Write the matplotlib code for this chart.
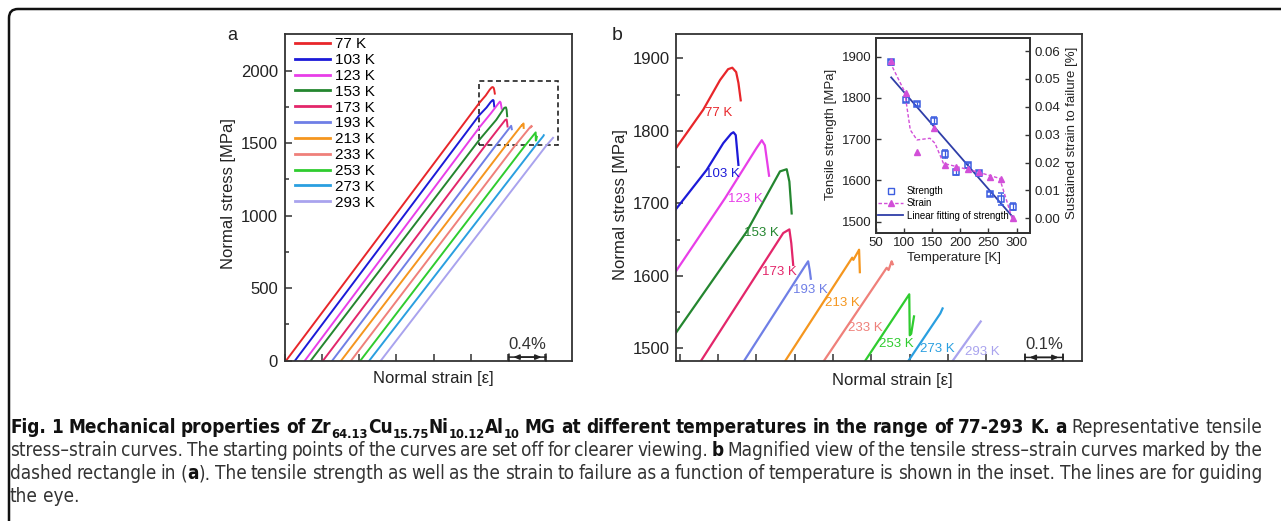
import matplotlib
matplotlib.use('Agg')
import matplotlib.pyplot as plt
import numpy as np
from matplotlib import font_manager
from matplotlib.patches import Rectangle, FancyBboxPatch
from matplotlib.transforms import IdentityTransform, blended_transform_factory
from matplotlib.lines import Line2D

plt.rcParams['font.family'] = ['Liberation Sans', 'DejaVu Sans']

# ---- data ----
temps = [77, 103, 123, 153, 173, 193, 213, 233, 253, 273, 293]
curve_labels = ['%d K' % t for t in temps]
colors = ['#e8262a', '#1c1ad8', '#e83ee8', '#24862f', '#e3266a', '#6f7fe6',
          '#f5961e', '#ef807a', '#2fcc2f', '#2a9fe0', '#a9a3ee']

# strain [%] where each (offset) curve leaves zero stress
start_strain = [0.011, 0.107, 0.213, 0.277, 0.409, 0.508, 0.604, 0.711, 0.811, 0.907, 1.031]
# upper part of each curve (strain %, stress MPa)
top_strain = [
    [2.090, 2.161, 2.205, 2.226, 2.237, 2.247, 2.253, 2.259],
    [2.090, 2.170, 2.2135, 2.234, 2.240, 2.246, 2.253],
    [2.092, 2.218, 2.300, 2.314, 2.322, 2.333],
    [2.092, 2.2746, 2.3615, 2.379, 2.386, 2.392],
    [2.155, 2.370, 2.386, 2.391, 2.396],
    [2.2675, 2.425, 2.435, 2.439, 2.442],
    [2.375, 2.550, 2.553, 2.566, 2.568, 2.570],
    [2.4746, 2.640, 2.645, 2.653, 2.656],
    [2.5835, 2.699, 2.7003, 2.704, 2.7114],
    [2.6965, 2.780, 2.786],
    [2.812, 2.8856],
]
top_stress = [
    [1776, 1829, 1870, 1885, 1887, 1881, 1866, 1842],
    [1692, 1746, 1783, 1796, 1798, 1794, 1753],
    [1608, 1707, 1776, 1787, 1780, 1738],
    [1523, 1661, 1744, 1747, 1730, 1686],
    [1482.5, 1659, 1664, 1645, 1615],
    [1482.5, 1612, 1620, 1608, 1596],
    [1482.5, 1625, 1622, 1634, 1636, 1605],
    [1481.5, 1611, 1608, 1620, 1616],
    [1482.5, 1574.5, 1518, 1520, 1544],
    [1482.5, 1548, 1555],
    [1482.5, 1537],
]
# label anchors in panel b (left edge, centre)
label_pos = [(2.166, 1824), (2.166, 1741), (2.227, 1706), (2.268, 1659), (2.314, 1605),
             (2.395, 1580), (2.479, 1563), (2.538, 1528), (2.620, 1506), (2.727, 1499),
             (2.845, 1495)]

zoom_box = (2.09, 2.94, 1487, 1929)

# inset
strength = [1886, 1795, 1785, 1745, 1664, 1619, 1637, 1617, 1566, 1555, 1536]
strength_err = [6, 6, 6, 8, 10, 6, 6, 6, 5, 15, 8]
fail_strain = [0.0563, 0.0448, 0.0239, 0.0323, 0.0191, 0.0183, 0.0176, 0.0167, 0.0149, 0.0141, 0.0]
guide_T = [75, 101, 111, 123, 146, 155, 170, 194, 229, 270, 282, 292]
guide_strain = [0.056, 0.0454, 0.0317, 0.0281, 0.0287, 0.0269, 0.0197, 0.0185, 0.0167, 0.0143, 0.0066, 0.0]

W, H = 1281, 521
fig = plt.figure(figsize=(W / 100, H / 100), dpi=100)


def px_axes(l, t, r, b):
    return fig.add_axes([l / W, 1 - b / H, (r - l) / W, (b - t) / H])


axa = px_axes(285, 34, 572, 360.7)
axb = px_axes(676, 34, 1082, 361)
axi = px_axes(876, 38, 1030, 232.7)

spine_c = '#333333'
for ax in (axa, axb, axi):
    for s in ax.spines.values():
        s.set_linewidth(1.3)
        s.set_color(spine_c)

# ---- panel a ----
for i in range(len(temps)):
    xs = [start_strain[i]] + top_strain[i]
    ys = [0] + top_stress[i]
    axa.plot(xs, ys, color=colors[i], lw=1.4, label=curve_labels[i])
axa.set_xlim(0, 3.09)
axa.set_ylim(0, 2253)
axa.set_yticks([0, 500, 1000, 1500, 2000])
axa.set_yticks(np.arange(250, 2250, 500), minor=True)
axa.set_xticks(np.arange(0, 3.1, 0.4))
axa.set_xticklabels([])
axa.tick_params(direction='in', length=5, width=1.1, labelsize=12, pad=5, colors=spine_c)
axa.tick_params(which='minor', direction='in', length=3, width=1.1, colors=spine_c)
axa.tick_params(labelcolor='#222222')
axa.add_patch(Rectangle((zoom_box[0], zoom_box[2]), zoom_box[1] - zoom_box[0],
                        zoom_box[3] - zoom_box[2], fill=False, ls=(0, (3, 2)),
                        lw=1.2, color='#222222'))
leg = axa.legend(loc='upper left', bbox_to_anchor=(0.035, 0.99), frameon=False,
                 fontsize=11, handlelength=2.3, handletextpad=0.3, labelspacing=0.12,
                 borderpad=0, borderaxespad=0)
for l in leg.get_lines():
    l.set_linewidth(2)


def scale_bar(ax, x0, length, text):
    tr = blended_transform_factory(ax.transData, ax.transAxes)
    ax.annotate('', xy=(x0 + length, 0.011), xytext=(x0, 0.011), xycoords=tr, textcoords=tr,
                arrowprops=dict(arrowstyle='|-|,widthA=0.25,widthB=0.25', lw=1.1, color='#222',
                                shrinkA=0, shrinkB=0))
    ax.annotate('', xy=(x0 + length * 0.88, 0.011), xytext=(x0 + length * 0.12, 0.011),
                xycoords=tr, textcoords=tr,
                arrowprops=dict(arrowstyle='<|-|>,head_length=0.35,head_width=0.15', lw=1.1,
                                color='#222', shrinkA=0, shrinkB=0))
    ax.text(x0 + length / 2, 0.05, text, transform=tr, ha='center', va='center',
            fontsize=12, color='#333')


scale_bar(axa, 2.41, 0.4, '0.4%')

# ---- panel b ----
for i in range(len(temps)):
    xs = [start_strain[i]] + top_strain[i]
    ys = [0] + top_stress[i]
    axb.plot(xs, ys, color=colors[i], lw=1.6)
    axb.text(label_pos[i][0], label_pos[i][1], curve_labels[i], color=colors[i],
             fontsize=9.5, ha='left', va='center')
axb.set_xlim(2.09, 3.15)
axb.set_ylim(1482.5, 1933.5)
axb.set_yticks([1500, 1600, 1700, 1800, 1900])
axb.set_yticks(np.arange(1550, 1950, 100), minor=True)
axb.set_xticks(np.arange(2.1, 3.15, 0.1))
axb.set_xticklabels([])
axb.tick_params(direction='in', length=5, width=1.1, labelsize=12, pad=4.5, colors=spine_c)
axb.tick_params(which='minor', direction='in', length=3, width=1.1, colors=spine_c)
axb.tick_params(labelcolor='#222222')
scale_bar(axb, 3.001, 0.1, '0.1%')

# ---- inset ----
blue_c = '#3d5ee0'
mag_c = '#d24fd8'
fit_c = '#2f3ea8'
p = np.polyfit(temps, strength, 1)
T_fit = np.array([temps[0], temps[-1]])
axi.plot(T_fit, np.polyval(p, T_fit), color=fit_c, lw=1.3, zorder=2)
axi.errorbar(temps, strength, yerr=strength_err, fmt='s', mfc='none', mec=blue_c,
             ecolor=blue_c, ms=5, mew=1.1, capsize=2, elinewidth=0.9, zorder=3)
axi.set_xlim(50, 324)
axi.set_ylim(1473, 1945)
axi.set_xticks([50, 100, 150, 200, 250, 300])
axi.set_yticks([1500, 1600, 1700, 1800, 1900])
axi.tick_params(direction='in', length=3.5, width=1, labelsize=9.5, pad=3, colors=spine_c)
axi.tick_params(labelcolor='#222222')
axr = axi.twinx()
axr.plot(guide_T, guide_strain, color=mag_c, lw=1, ls=(0, (2.5, 1.5)), zorder=2)
axr.plot(temps, fail_strain, '^', color=mag_c, ms=5, zorder=3)
axr.set_ylim(-0.0052, 0.0647)
axr.set_yticks([0.0, 0.01, 0.02, 0.03, 0.04, 0.05, 0.06])
axr.set_yticklabels(['%.2f' % v for v in [0.0, 0.01, 0.02, 0.03, 0.04, 0.05, 0.06]])
axr.tick_params(direction='in', length=3.5, width=1, labelsize=9.5, pad=3, colors=spine_c)
axr.tick_params(labelcolor='#222222')
for s in axr.spines.values():
    s.set_linewidth(1.3)
    s.set_color(spine_c)

handles = [Line2D([], [], ls='none', marker='s', mfc='none', mec=blue_c, ms=4.5, mew=1),
           Line2D([], [], color=mag_c, lw=1, ls=(0, (2.5, 1.5)), marker='^', ms=4),
           Line2D([], [], color=fit_c, lw=1.3)]
axr.legend(handles, ['Strength', 'Strain', 'Linear fitting of strength'], loc='upper left',
           bbox_to_anchor=(0.013, 0.24), frameon=False, fontsize=7, handlelength=2.6,
           handletextpad=0.35, labelspacing=0.25, borderpad=0, borderaxespad=0)

# ---- axis labels / panel letters (pixel positions) ----
ID = IdentityTransform()


def ptext(x, y, s, **kw):
    fig.text(x, H - y, s, transform=ID, **kw)


ptext(229, 194, 'Normal stress [MPa]', rotation=90, ha='center', va='center', fontsize=12, color='#222')
ptext(433, 379, 'Normal strain [ε]', ha='center', va='center', fontsize=12, color='#222')
ptext(620, 205, 'Normal stress [MPa]', rotation=90, ha='center', va='center', fontsize=12, color='#222')
ptext(892, 381, 'Normal strain [ε]', ha='center', va='center', fontsize=12, color='#222')
ptext(831, 134, 'Tensile strength [MPa]', rotation=90, ha='center', va='center', fontsize=9.5, color='#222')
ptext(1072, 133, 'Sustained strain to failure [%]', rotation=90, ha='center', va='center', fontsize=9.5, color='#222')
ptext(954, 258, 'Temperature [K]', ha='center', va='center', fontsize=9.5, color='#222')
ptext(232, 35, 'a', ha='center', va='center', fontsize=13, color='#222')
ptext(617, 36, 'b', ha='center', va='center', fontsize=14, color='#222')

# ---- card frame ----
frame = FancyBboxPatch((9, -40), 1400, H - 9 + 40, boxstyle='round,pad=0,rounding_size=9',
                       transform=ID, fill=False, lw=1.8, ec='#111111')
fig.add_artist(frame)

# ---- caption ----
# pick a narrow face if one is installed
cap_font, cap_stretch = 'Liberation Sans', 'normal'
try:
    f = font_manager.findfont(font_manager.FontProperties(family='Liberation Sans Narrow'),
                              fallback_to_default=False)
    cap_font = 'Liberation Sans Narrow'
except ValueError:
    f = font_manager.findfont(font_manager.FontProperties(family='DejaVu Sans', stretch='condensed'))
    if 'Condensed' in f:
        cap_font, cap_stretch = 'DejaVu Sans', 'condensed'
    else:
        try:
            font_manager.findfont(font_manager.FontProperties(family='Roboto'), fallback_to_default=False)
            cap_font = 'Roboto'
        except ValueError:
            pass

caption_lines = [
    [("Fig. 1 Mechanical properties of Zr", 1, 0), ("64.13", 1, 1), ("Cu", 1, 0), ("15.75", 1, 1),
     ("Ni", 1, 0), ("10.12", 1, 1), ("Al", 1, 0), ("10", 1, 1),
     (" MG at different temperatures in the range of 77-293 K. a", 1, 0),
     (" Representative tensile", 0, 0)],
    [("stress–strain curves. The starting points of the curves are set off for clearer viewing. ", 0, 0),
     ("b", 1, 0), (" Magnified view of the tensile stress–strain curves marked by the", 0, 0)],
    [("dashed rectangle in (", 0, 0), ("a", 1, 0),
     ("). The tensile strength as well as the strain to failure as a function of temperature "
      "is shown in the inset. The lines are for guiding", 0, 0)],
    [("the eye.", 0, 0)],
]
cap_base = [433, 456, 479, 502]
cap_x0, cap_x1 = 10, 1262
renderer = fig.canvas.get_renderer()


def tokens_of(segs):
    toks = []
    pending = False
    for text, bold, sub in segs:
        parts = text.split(' ')
        for k, w in enumerate(parts):
            if k > 0:
                pending = True
            if w == '':
                continue
            toks.append((w, bold, sub, pending))
            pending = False
    return toks


def make_line(segs, size):
    objs = []
    for w, bold, sub, sp in tokens_of(segs):
        t = fig.text(0, 0, w, transform=ID, fontsize=size * (0.68 if sub else 1),
                     fontweight='bold' if bold else 'normal', family=cap_font,
                     fontstretch=cap_stretch,
                     color='#111111' if bold else '#333333', va='baseline', ha='left')
        objs.append((t, sub, sp, t.get_window_extent(renderer).width))
    return objs


def space_width(size):
    t1 = fig.text(0, 0, 'a a', fontsize=size, family=cap_font, fontstretch=cap_stretch, transform=ID)
    t2 = fig.text(0, 0, 'aa', fontsize=size, family=cap_font, fontstretch=cap_stretch, transform=ID)
    w = t1.get_window_extent(renderer).width - t2.get_window_extent(renderer).width
    t1.remove()
    t2.remove()
    return w


size = 12.0
objs = make_line(caption_lines[0], size)
nat = sum(o[3] for o in objs) + sum(1 for o in objs if o[2]) * space_width(size)
for o in objs:
    o[0].remove()
size = size * (cap_x1 - cap_x0) / nat
sw = space_width(size)
for li, segs in enumerate(caption_lines):
    objs = make_line(segs, size)
    nsp = sum(1 for o in objs if o[2])
    nat = sum(o[3] for o in objs) + nsp * sw
    gap = sw
    if li < len(caption_lines) - 1 and nsp:
        gap = sw + (cap_x1 - cap_x0 - nat) / nsp
    x = cap_x0
    for t, sub, sp, w in objs:
        if sp:
            x += gap
        y = H - cap_base[li] - (0.28 * size * 100 / 72 if sub else 0)
        t.set_position((x, y))
        x += w

fig.savefig('out.png', dpi=100)
